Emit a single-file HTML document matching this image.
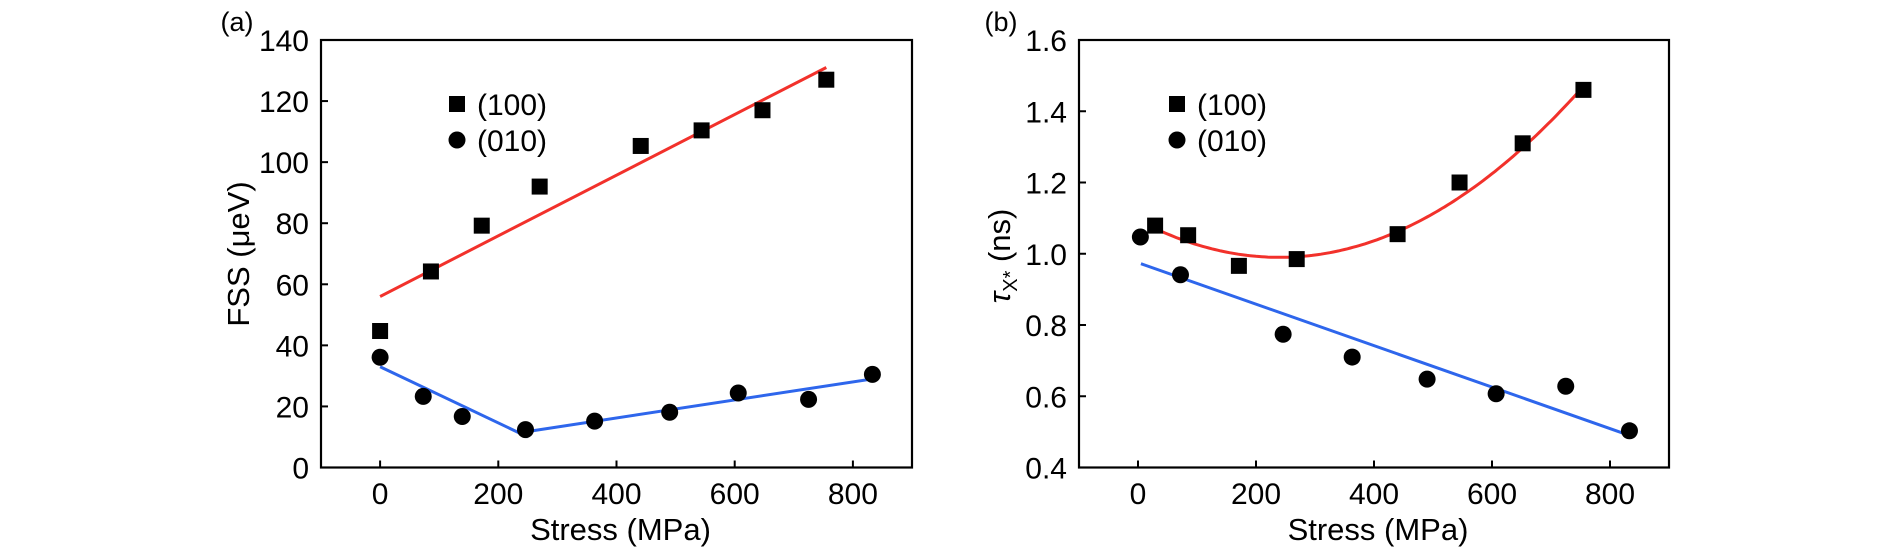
<!DOCTYPE html>
<html><head><meta charset="utf-8">
<style>
html,body{margin:0;padding:0;background:#fff;}
svg{display:block;font-family:"Liberation Sans",sans-serif;}
</style></head>
<body>
<svg id="fig" width="1890" height="550" viewBox="0 0 1890 550"></svg>
<script>
// ---- Panel (a) data ----
const aSqX = [0, 86, 172, 270, 441, 544, 647, 755];
const aSqY = [44.7, 64.2, 79.2, 92, 105.3, 110.4, 117, 127];
const aCiX = [0, 73, 139, 246, 363, 490, 606, 725, 833];
const aCiY = [36.1, 23.3, 16.7, 12.4, 15.2, 18.1, 24.4, 22.3, 30.5];
const aRedX = [0, 755];
const aRedY = [56, 131];
const aBlue1X = [0, 250];
const aBlue1Y = [33, 10];
const aBlue2X = [250, 833];
const aBlue2Y = [11.8, 29];
const aYTicks = [0, 20, 40, 60, 80, 100, 120, 140];
const xTicks = [0, 200, 400, 600, 800];
// ---- Panel (b) data ----
const bSqX = [29, 85, 171, 269, 440, 545, 652, 755];
const bSqY = [1.079, 1.052, 0.966, 0.985, 1.055, 1.20, 1.31, 1.46];
const bCiX = [4, 72, 246, 363, 490, 607, 725, 833];
const bCiY = [1.047, 0.941, 0.774, 0.71, 0.648, 0.607, 0.628, 0.503];
const bQuad = [1.81e-6, 240, 0.99]; // a, vertex x, vertex y
const bQuadRange = [30, 755];
const bBlueX = [5, 833];
const bBlueY = [0.972, 0.49];
const bYTicks = [0.4, 0.6, 0.8, 1.0, 1.2, 1.4, 1.6];
const bYTickLabels = ["0.4", "0.6", "0.8", "1.0", "1.2", "1.4", "1.6"];

const NS = "http://www.w3.org/2000/svg";
const svg = document.getElementById("fig");
function mk(tag, attrs, parent) {
  const e = document.createElementNS(NS, tag);
  for (const k in attrs) e.setAttribute(k, attrs[k]);
  (parent || svg).appendChild(e);
  return e;
}
const RED = "#f2312b", BLUE = "#2e66ec";

function panel(cfg) {
  const g = mk("g", {});
  
  
  const L = cfg.left, R = cfg.right, T = 40, B = 467.5;
  const sx = v => L + (v - (-100)) / 1000 * (R - L);
  const sy = v => B - (v - cfg.ymin) / (cfg.ymax - cfg.ymin) * (B - T);
  const fr = mk("rect", {x: L, y: T, width: R - L, height: B - T, fill: "none", stroke: "#000", "stroke-width": 2.2}, g);
  
  
  xTicks.forEach(t => {
    const x = sx(t);
    const tk = mk("line", {x1: x, x2: x, y1: B, y2: B - 7, stroke: "#000", "stroke-width": 2}, g);
    
    
    const tl = mk("text", {x: x, y: 504, "font-size": 30, "text-anchor": "middle"}, g);
    tl.textContent = t;
    
    
  });
  cfg.yticks.forEach((t, i) => {
    const y = sy(t);
    const tk = mk("line", {x1: L, x2: L + 7, y1: y, y2: y, stroke: "#000", "stroke-width": 2}, g);
    
    
    const tl = mk("text", {x: L - 12, y: y + 11, "font-size": 30, "text-anchor": "end"}, g);
    tl.textContent = cfg.ylabels[i];
    
    
  });
  const xt = mk("text", {x: (L + R) / 2 + 4, y: 540, "font-size": 31, "text-anchor": "middle"}, g);
  xt.textContent = "Stress (MPa)";
  
  
  const pl = mk("text", {x: cfg.labelX, y: 31, "font-size": 27, "text-anchor": "middle"}, g);
  pl.textContent = cfg.label;
  
  
  return {g, sx, sy, L, R};
}

function markers(p, xs, ys, kind) {
  xs.forEach((v, i) => {
    const cx = p.sx(v), cy = p.sy(ys[i]);
    let m;
    if (kind === "sq") {
      m = mk("rect", {x: cx - 8, y: cy - 8, width: 16, height: 16, fill: "#000"}, p.g);
      
    } else {
      m = mk("circle", {cx: cx, cy: cy, r: 8.5, fill: "#000"}, p.g);
      
    }
    
  });
}
function line(p, xs, ys, color, name) {
  const l = mk("line", {x1: p.sx(xs[0]), y1: p.sy(ys[0]), x2: p.sx(xs[1]), y2: p.sy(ys[1]), stroke: color, "stroke-width": 3}, p.g);
  
  
}
function legend(p, x) {
  const g = mk("g", {}, p.g);
  
  
  const s = mk("rect", {x: x - 8, y: 96, width: 16, height: 16, fill: "#000"}, g);
  
  
  const t1 = mk("text", {x: x + 20, y: 115, "font-size": 30}, g);
  t1.textContent = "(100)";
  
  
  const c = mk("circle", {cx: x, cy: 140, r: 8.5, fill: "#000"}, g);
  
  
  const t2 = mk("text", {x: x + 20, y: 151, "font-size": 30}, g);
  t2.textContent = "(010)";
  
  
}

// Panel (a)
const pa = panel({name: "panel-a-fss", left: 321, right: 912, ymin: 0, ymax: 140,
  yticks: aYTicks, ylabels: aYTicks.map(String), label: "(a)", labelX: 237});
line(pa, aRedX, aRedY, RED, "fit-line-100");
line(pa, aBlue1X, aBlue1Y, BLUE, "fit-line-010-a");
line(pa, aBlue2X, aBlue2Y, BLUE, "fit-line-010-b");
markers(pa, aSqX, aSqY, "sq");
markers(pa, aCiX, aCiY, "ci");
legend(pa, 457);
const yta = mk("text", {transform: "translate(249,254) rotate(-90)", "font-size": 31, "text-anchor": "middle"}, pa.g);
yta.textContent = "FSS (μeV)";



// Panel (b)
const pb = panel({name: "panel-b-lifetime", left: 1079, right: 1669, ymin: 0.4, ymax: 1.6,
  yticks: bYTicks, ylabels: bYTickLabels, label: "(b)", labelX: 1001});
let d = "";
for (let x = bQuadRange[0]; x <= bQuadRange[1]; x += 5) {
  const y = bQuad[0] * (x - bQuad[1]) * (x - bQuad[1]) + bQuad[2];
  d += (d ? "L" : "M") + pb.sx(x).toFixed(1) + "," + pb.sy(y).toFixed(1);
}
const qp = mk("path", {d: d, fill: "none", stroke: RED, "stroke-width": 3}, pb.g);


line(pb, bBlueX, bBlueY, BLUE, "fit-line-010");
markers(pb, bSqX, bSqY, "sq");
markers(pb, bCiX, bCiY, "ci");
legend(pb, 1177);
const ytb = mk("text", {transform: "translate(1010,256) rotate(-90)", "font-size": 31, "text-anchor": "middle"}, pb.g);


const tau = mk("tspan", {"font-style": "italic"}, ytb); tau.textContent = "τ";
const sub = mk("tspan", {"font-size": 20, dy: 7}, ytb); sub.textContent = "X*";
const rest = mk("tspan", {dy: -7}, ytb); rest.textContent = " (ns)";
</script>
</body></html>
